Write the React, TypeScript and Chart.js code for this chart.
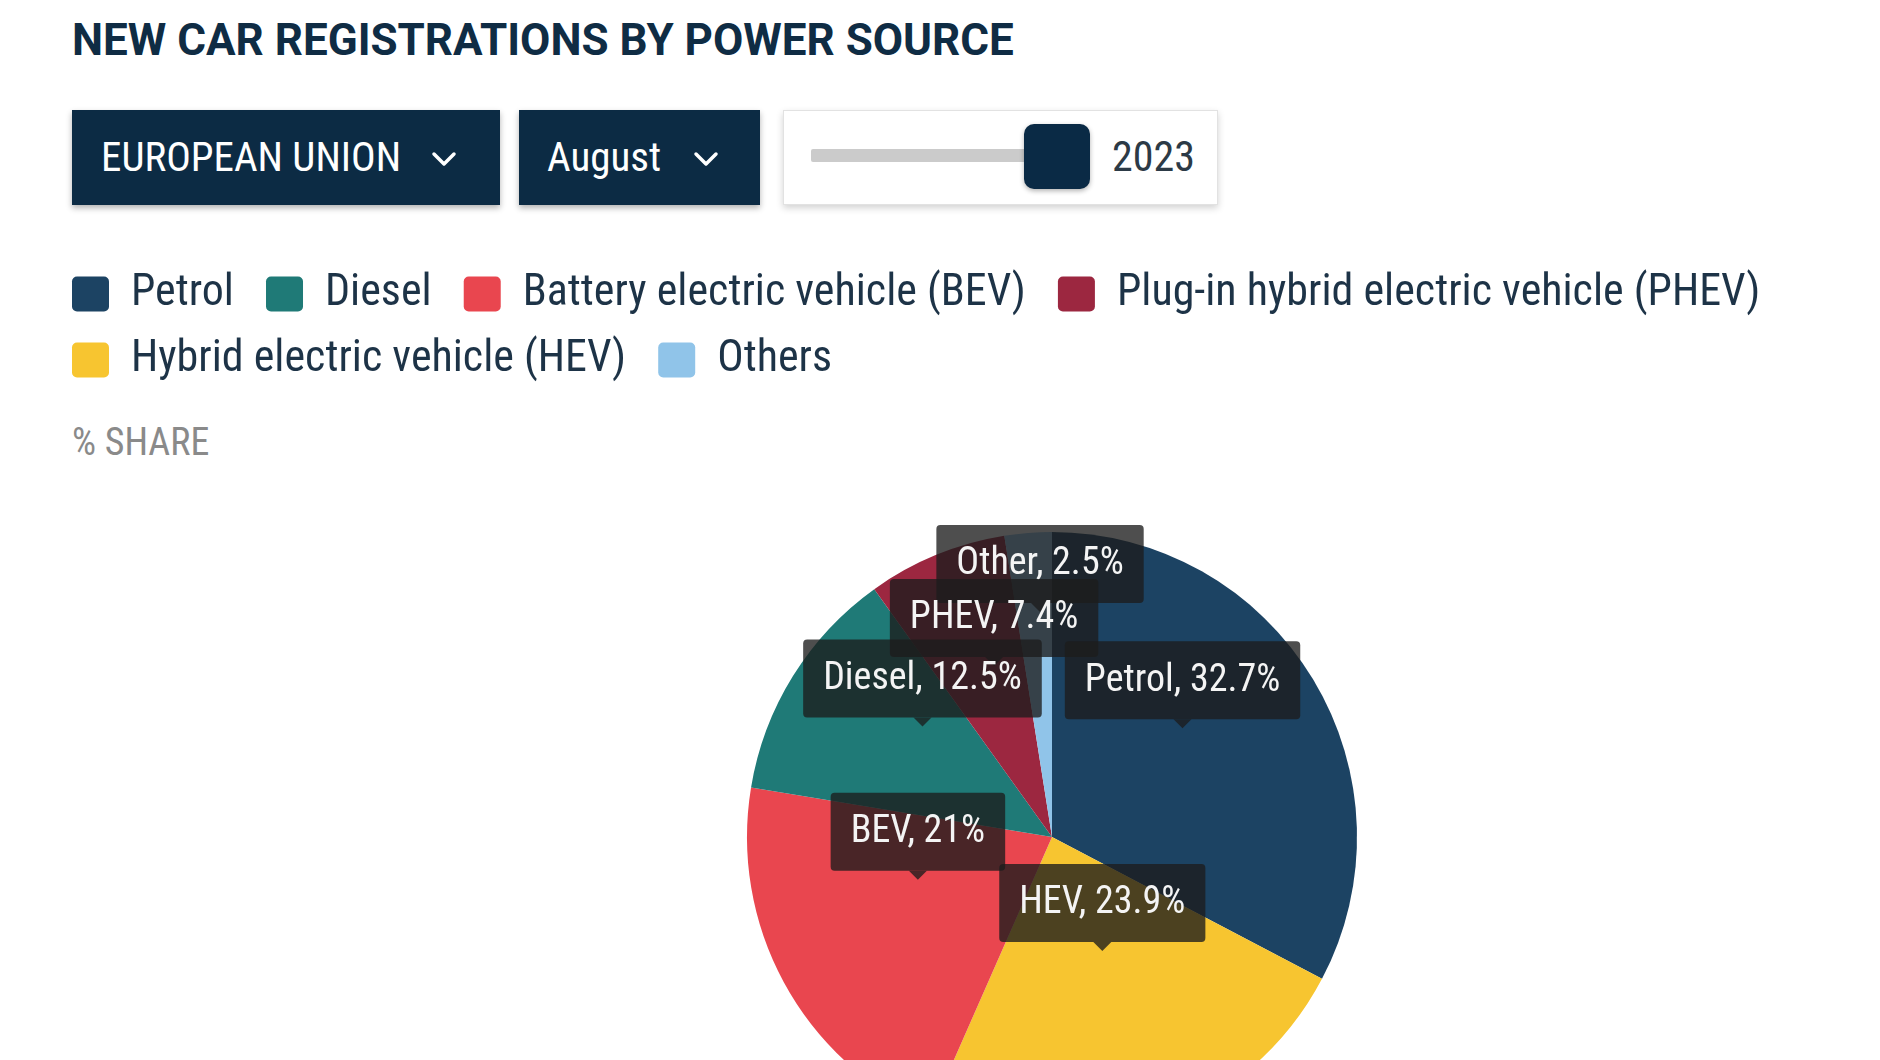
import React, { useEffect, useRef } from "react";
import { Chart, registerables } from "chart.js";

Chart.register(...registerables);

// ---- data ----
const categories = [
  "Petrol",
  "Hybrid electric vehicle (HEV)",
  "Battery electric vehicle (BEV)",
  "Diesel",
  "Plug-in hybrid electric vehicle (PHEV)",
  "Others",
];
const shortLabels = ["Petrol", "HEV", "BEV", "Diesel", "PHEV", "Other"];
const shares = [32.7, 23.9, 21, 12.5, 7.4, 2.5];
const colors = ["#1c4363", "#f7c530", "#e9464f", "#1f7a77", "#9c2740", "#90c4e9"];
const legendOrder = [
  "Petrol",
  "Diesel",
  "Battery electric vehicle (BEV)",
  "Plug-in hybrid electric vehicle (PHEV)",
  "Hybrid electric vehicle (HEV)",
  "Others",
];
const titleText = "NEW CAR REGISTRATIONS BY POWER SOURCE";
const regionLabel = "EUROPEAN UNION";
const monthLabel = "August";
const yearLabel = "2023";
const unitLabel = "% SHARE";

const COND = '"Roboto Condensed", Roboto, sans-serif';
const NAVY = "#0c2b44";

const calloutPlugin = {
  id: "callouts",
  afterDatasetsDraw(chart: any) {
    const ctx = chart.ctx as CanvasRenderingContext2D;
    const meta = chart.getDatasetMeta(0);
    const fontSize = 38;
    const padX = 20;
    const boxH = 78;
    const caretH = 9;
    const caretW = 18;
    const lift = 30;
    const overlap = 24;
    ctx.save();
    ctx.font = `400 ${fontSize}px ${COND}`;
    const items = meta.data.map((arc: any, i: number) => {
      const p = arc.tooltipPosition(false);
      const text = `${shortLabels[i]}, ${shares[i]}%`;
      const w = ctx.measureText(text).width + 2 * padX;
      const tipY = p.y - lift;
      return { i, text, w, x: p.x, bottom: tipY - caretH };
    });
    const placed: any[] = [];
    for (const it of items) {
      let moved = true;
      let guard = 0;
      while (moved && guard++ < 20) {
        moved = false;
        for (const o of placed) {
          const hOverlap =
            Math.min(it.x + it.w / 2, o.x + o.w / 2) - Math.max(it.x - it.w / 2, o.x - o.w / 2);
          const vOverlap = Math.min(it.bottom, o.bottom) - Math.max(it.bottom - boxH, o.bottom - boxH);
          const target = o.bottom - boxH + overlap;
          if (hOverlap > 10 && vOverlap > 0 && it.bottom > target) {
            it.bottom = target;
            moved = true;
          }
        }
      }
      placed.push(it);
    }
    for (let k = placed.length - 1; k >= 0; k--) {
      const it = placed[k];
      const left = it.x - it.w / 2;
      const top = it.bottom - boxH;
      ctx.fillStyle = "rgba(28,28,28,0.78)";
      ctx.beginPath();
      ctx.roundRect(left, top, it.w, boxH, 4);
      ctx.fill();
      ctx.beginPath();
      ctx.moveTo(it.x - caretW / 2, it.bottom);
      ctx.lineTo(it.x, it.bottom + caretH);
      ctx.lineTo(it.x + caretW / 2, it.bottom);
      ctx.closePath();
      ctx.fill();
      ctx.fillStyle = "#f4f4f4";
      ctx.textAlign = "center";
      ctx.textBaseline = "middle";
      ctx.fillText(it.text, it.x, top + boxH / 2 + 1);
    }
    ctx.restore();
  },
};

function Chevron() {
  return (
    <svg width="26" height="16" viewBox="0 0 26 16" style={{ display: "block" }}>
      <path d="M3 3 L13 13 L23 3" stroke="#fff" strokeWidth="3.5" fill="none" strokeLinecap="round" strokeLinejoin="round" />
    </svg>
  );
}

export default function App() {
  const ref = useRef<HTMLCanvasElement>(null);
  useEffect(() => {
    const baseGen = (Chart as any).overrides.pie.plugins.legend.labels.generateLabels;
    const chart = new Chart(ref.current as HTMLCanvasElement, {
      type: "pie",
      data: {
        labels: categories,
        datasets: [
          {
            data: shares,
            backgroundColor: colors,
            borderWidth: 0,
            radius: 305,
          } as any,
        ],
      },
      options: {
        animation: false,
        responsive: false,
        events: [],
        layout: { padding: { left: 50, top: 0, right: 0, bottom: 0 } },
        plugins: {
          tooltip: { enabled: false },
          title: { display: false },
          legend: {
            display: true,
            position: "top",
            align: "start",
            labels: {
              boxWidth: 37,
              boxHeight: 35,
              useBorderRadius: true,
              borderRadius: 5,
              padding: 22,
              color: "#1d3347",
              font: { size: 44, family: COND },
              generateLabels: (c: any) =>
                baseGen(c).map((l: any) => ({ ...l, text: l.text + " " })),
              sort: (a: any, b: any) =>
                legendOrder.indexOf(a.text.trim()) - legendOrder.indexOf(b.text.trim()),
            },
          },
        },
      },
      plugins: [calloutPlugin],
    });
    return () => chart.destroy();
  }, []);

  const ddBase: React.CSSProperties = {
    position: "absolute",
    top: 110,
    height: 95,
    background: NAVY,
    boxShadow: "0 3px 6px rgba(0,0,0,0.3)",
    display: "flex",
    alignItems: "center",
    color: "#fff",
    fontSize: 41,
    fontFamily: COND,
    boxSizing: "border-box",
    whiteSpace: "nowrap",
  };

  return (
    <div
      style={{
        position: "fixed",
        left: 0,
        top: 0,
        width: 1880,
        height: 1060,
        overflow: "hidden",
        background: "#fff",
        fontFamily: COND,
      }}
    >
      <div
        style={{
          position: "absolute",
          left: 72,
          top: 18,
          fontSize: 44,
          fontWeight: 700,
          lineHeight: 1,
          color: "#0f2c44",
          fontFamily: "Roboto, sans-serif",
          whiteSpace: "nowrap",
        }}
      >
        {titleText}
      </div>

      <div style={{ ...ddBase, left: 72, width: 428, paddingLeft: 29, paddingBottom: 2 }}>
        <span>{regionLabel}</span>
        <div style={{ position: "absolute", left: 359, top: 41 }}>
          <Chevron />
        </div>
      </div>

      <div style={{ ...ddBase, left: 519, width: 241, paddingLeft: 28, paddingBottom: 2 }}>
        <span>{monthLabel}</span>
        <div style={{ position: "absolute", left: 174, top: 41 }}>
          <Chevron />
        </div>
      </div>

      <div
        style={{
          position: "absolute",
          left: 783,
          top: 110,
          width: 435,
          height: 95,
          background: "#fff",
          border: "1px solid #e2e2e2",
          boxShadow: "0 3px 7px rgba(0,0,0,0.18)",
          boxSizing: "border-box",
        }}
      >
        <div style={{ position: "absolute", left: 27, top: 38, width: 240, height: 13, background: "#cbcbcb", borderRadius: 2 }} />
        <div
          style={{
            position: "absolute",
            left: 240,
            top: 13,
            width: 66,
            height: 65,
            background: "#0a2a45",
            borderRadius: 10,
            boxShadow: "0 2px 5px rgba(0,0,0,0.3)",
          }}
        />
        <div
          style={{
            position: "absolute",
            left: 328,
            top: 0,
            height: 91,
            display: "flex",
            alignItems: "center",
            fontSize: 42,
            color: "#2c3a46",
            fontFamily: COND,
          }}
        >
          {yearLabel}
        </div>
      </div>

      <div
        style={{
          position: "absolute",
          left: 72,
          top: 423,
          fontSize: 38,
          lineHeight: 1,
          color: "#8a8a8a",
          fontFamily: COND,
          whiteSpace: "nowrap",
        }}
      >
        {unitLabel}
      </div>

      <canvas
        ref={ref}
        width={2054}
        height={1032}
        style={{ position: "absolute", left: 0, top: 250, width: 2054, height: 1032 }}
      />
    </div>
  );
}
